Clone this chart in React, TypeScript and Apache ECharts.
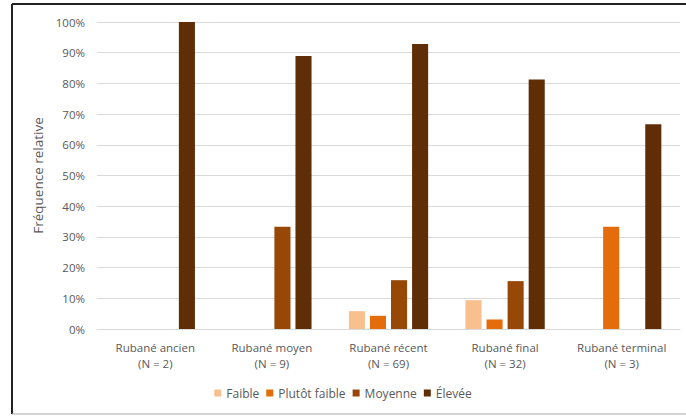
import React, { useEffect, useRef } from "react";
import * as echarts from "echarts";

const categories = [
  "Rubané ancien\n(N = 2)",
  "Rubané moyen\n(N = 9)",
  "Rubané récent\n(N = 69)",
  "Rubané final\n(N = 32)",
  "Rubané terminal\n(N = 3)",
];
const faible = [0, 0, 5.8, 9.4, 0];
const plutotFaible = [0, 0, 4.3, 3.1, 33.3];
const moyenne = [0, 33.3, 15.9, 15.6, 0];
const elevee = [100, 88.9, 92.8, 81.3, 66.7];
const seriesNames = ["Faible", "Plutôt faible", "Moyenne", "Élevée"];
const colors = ["#F8BF8F", "#E46C0A", "#974806", "#5F2E07"];
const yTicks = [0, 10, 20, 30, 40, 50, 60, 70, 80, 90, 100];

export default function App() {
  const ref = useRef<HTMLDivElement>(null);
  useEffect(() => {
    if (!ref.current) return;
    const chart = echarts.init(ref.current, null, { renderer: "svg" });
    const font = "Open Sans";
    const data = [faible, plutotFaible, moyenne, elevee];
    chart.setOption({
      animation: false,
      backgroundColor: "#fff",
      textStyle: { fontFamily: font },
      grid: { left: 97, right: 6, top: 22, bottom: 87, containLabel: false },
      legend: {
        bottom: 12,
        left: "center",
        itemWidth: 7,
        itemHeight: 7,
        itemGap: 7,
        icon: "rect",
        textStyle: { color: "#595959", fontSize: 12, fontFamily: font },
        data: seriesNames,
      },
      xAxis: {
        type: "category",
        data: categories,
        axisLine: { lineStyle: { color: "#d9d9d9" } },
        axisTick: { show: false },
        axisLabel: { color: "#595959", fontSize: 11.5, lineHeight: 16, margin: 10, fontFamily: font },
      },
      yAxis: {
        type: "value",
        min: yTicks[0],
        max: yTicks[yTicks.length - 1],
        interval: 10,
        name: "Fréquence relative",
        nameLocation: "middle",
        nameGap: 47,
        nameTextStyle: { color: "#595959", fontSize: 13.5, fontFamily: font },
        axisLabel: { color: "#595959", fontSize: 11.5, margin: 12, formatter: "{value}%", fontFamily: font },
        splitLine: { lineStyle: { color: "#d9d9d9" } },
        axisLine: { show: false },
        axisTick: { show: false },
      },
      series: seriesNames.map((name, i) => ({
        name,
        type: "bar",
        data: data[i],
        itemStyle: { color: colors[i] },
        barGap: "31%",
        barCategoryGap: "32%",
      })),
      graphic: [
        { type: "line", shape: { x1: 12, y1: 4, x2: 12, y2: 414 }, style: { stroke: "#222", lineWidth: 2 } },
        { type: "line", shape: { x1: 12, y1: 4, x2: 686, y2: 4 }, style: { stroke: "#222", lineWidth: 2 } },
        { type: "line", shape: { x1: 12, y1: 414, x2: 686, y2: 414 }, style: { stroke: "#aaa", lineWidth: 1 } },
      ],
    });
    return () => chart.dispose();
  }, []);
  return (
    <div
      ref={ref}
      style={{ position: "fixed", left: 0, top: 0, width: 686, height: 416 }}
    />
  );
}
